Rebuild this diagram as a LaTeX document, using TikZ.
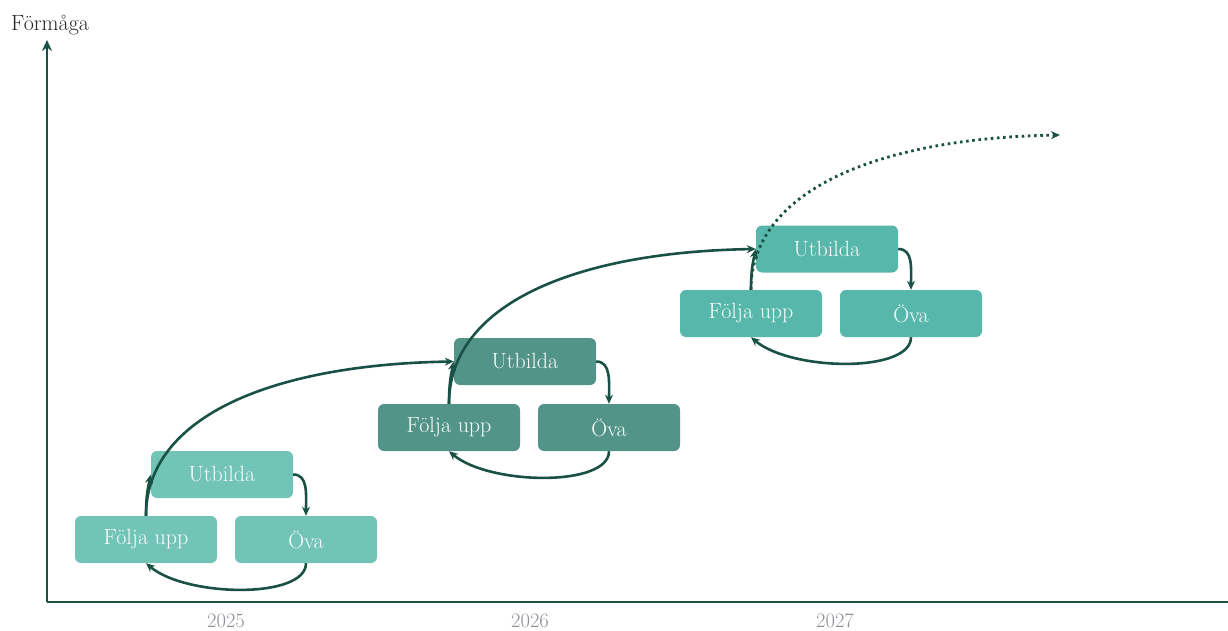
\documentclass[tikz,border=0pt]{standalone}
\usepackage{fontspec}
\usetikzlibrary{arrows.meta}
\definecolor{gA}{HTML}{72C4B7}
\definecolor{gB}{HTML}{529488}
\definecolor{gC}{HTML}{57B7AA}
\definecolor{boxtxt}{HTML}{FAFDFC}
\definecolor{ink}{HTML}{1A5145}
\definecolor{yeargray}{HTML}{8C8C96}
\tikzset{
  cyclebox/.style={rounded corners=6pt, minimum width=142pt, minimum height=47pt, inner sep=0pt,
    text=boxtxt, font=\fontsize{22}{24}\selectfont},
  conn/.style={draw=ink, line width=2.6pt, -{Stealth[length=9pt,width=8pt]}},
  dotconn/.style={draw=ink, line width=2.8pt, dash pattern=on 2.6pt off 3.6pt, -{Stealth[length=9pt,width=8pt]}},
  axis/.style={draw=ink, line width=2.8pt},
  yearlbl/.style={text=yeargray, font=\fontsize{20.5}{23}\selectfont, inner sep=0pt},
}
\begin{document}
\begin{tikzpicture}[x=1pt, y=-1pt]
\useasboundingbox (0,0) rectangle (1228,631);
% axes
\coordinate (origin) at (47,602);
\coordinate (ytop) at (47,40);
\coordinate (xend) at (1228,602);
\draw[axis, -{Stealth[length=11pt,width=10pt]}] (origin) -- (ytop);
\draw[axis] (origin) -- (xend);
\node[font=\fontsize{22}{24}\selectfont, text=black!85, inner sep=0pt] (ylabel) at (50,25) {Förmåga};
\node[yearlbl] (y25) at (226,621) {2025};
\node[yearlbl] (y26) at (530,621) {2026};
\node[yearlbl] (y27) at (835,621) {2027};

% group 1
\node[cyclebox, fill=gA] (U1) at (222,474.5) {Utbilda};
\node[cyclebox, fill=gA] (F1) at (146,539.5) {Följa upp};
\node[cyclebox, fill=gA] (O1) at (306,539.5) {Öva};
% group 2
\node[cyclebox, fill=gB] (U2) at (525,361.5) {Utbilda};
\node[cyclebox, fill=gB] (F2) at (449,427.5) {Följa upp};
\node[cyclebox, fill=gB] (O2) at (609,427.5) {Öva};
% group 3
\node[cyclebox, fill=gC] (U3) at (827,249) {Utbilda};
\node[cyclebox, fill=gC] (F3) at (751,313.5) {Följa upp};
\node[cyclebox, fill=gC] (O3) at (911,313.5) {Öva};

\coordinate (future) at (1060,135);

% cycle arrows
\foreach \u/\f/\o in {U1/F1/O1, U2/F2/O2, U3/F3/O3}{
  \draw[conn] (\u.east) .. controls +(15,0) and +(0,-22) .. (\o.north);
  \draw[conn] (\o.south) .. controls +(0,36) and +(40,34) .. (\f.south);
  \draw[conn] (\f.north) .. controls +(0,-20) and +(-3,14) .. (\u.west);
}
% progression arcs
\draw[conn] (F1.north) .. controls +(0,-100) and +(-180,3) .. (U2.west);
\draw[conn] (F2.north) .. controls +(0,-100) and +(-180,3) .. (U3.west);
\draw[dotconn] (F3.north) .. controls +(0,-100) and +(-180,3) .. (future);
\end{tikzpicture}
\end{document}
